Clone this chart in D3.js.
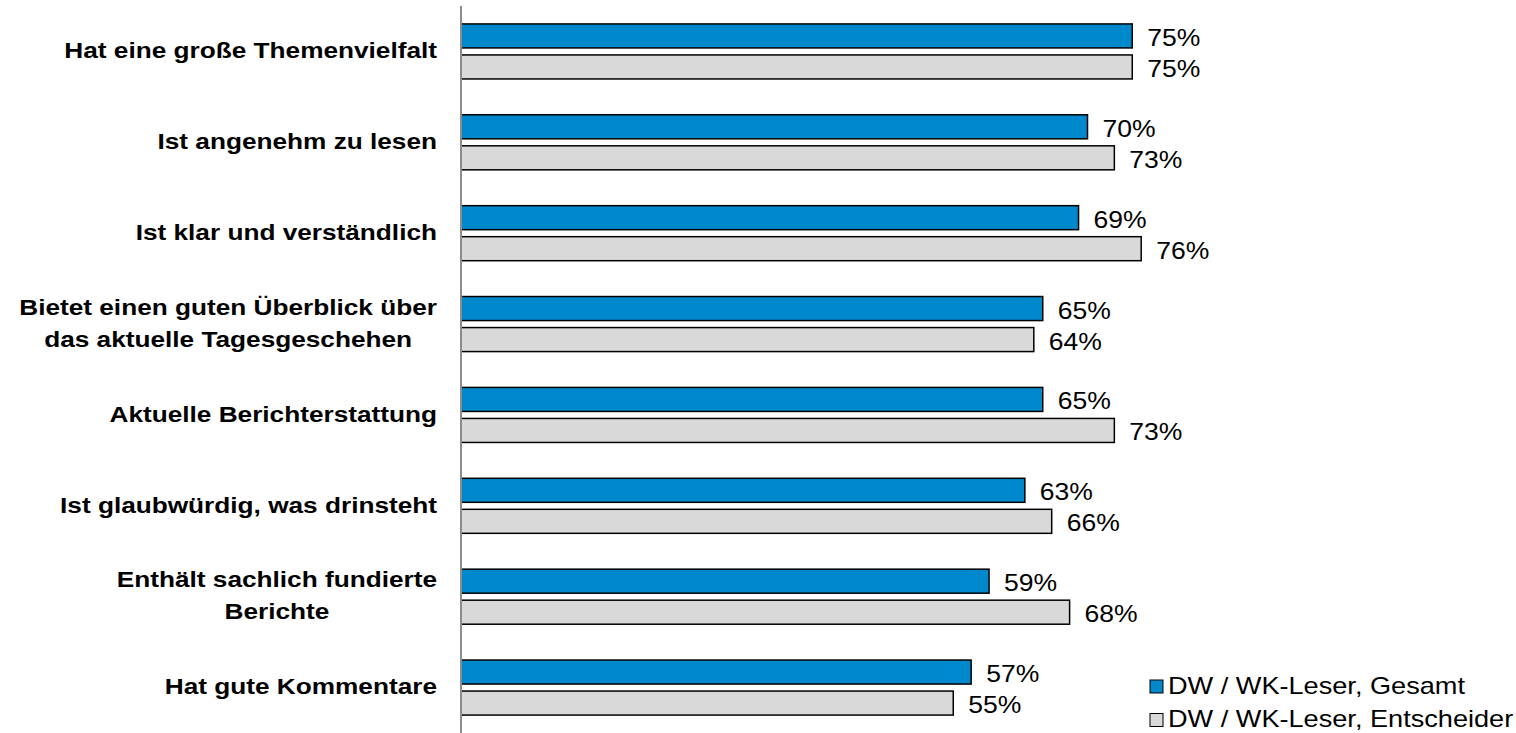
<!DOCTYPE html>
<html>
<head>
<meta charset="utf-8">
<script src="https://cdn.jsdelivr.net/npm/d3@7"></script>
<style>
  html, body { margin: 0; padding: 0; background: #fff; }
  svg { display: block; font-family: "Liberation Sans", Arial, sans-serif; }
</style>
</head>
<body>
<script>
// Rated attributes of the newspaper (share of readers agreeing, %)
const categories = [
  "Hat eine große Themenvielfalt",
  "Ist angenehm zu lesen",
  "Ist klar und verständlich",
  "Bietet einen guten Überblick über\ndas aktuelle Tagesgeschehen",
  "Aktuelle Berichterstattung",
  "Ist glaubwürdig, was drinsteht",
  "Enthält sachlich fundierte\nBerichte",
  "Hat gute Kommentare"
];
const seriesNames = ["DW / WK-Leser, Gesamt", "DW / WK-Leser, Entscheider"];
const gesamt      = [75, 70, 69, 65, 65, 63, 59, 57];
const entscheider = [75, 73, 76, 64, 73, 66, 68, 55];
const seriesColors = ["#0088cc", "#d9d9d9"];

const W = 1516, H = 733;

const svg = d3.select("body").append("svg")
  .attr("width", W).attr("height", H);

const x = d3.scaleLinear().domain([0, 100]).range([461, 461 + 895]);
const y = d3.scaleBand().domain(categories).range([6, 733]).padding(0);
const inner = d3.scaleBand().domain(seriesNames)
  .range([0, y.bandwidth()])
  .paddingInner(7 / 31).paddingOuter(0.578);

const rows = categories.map((c, i) => ({
  cat: c,
  values: [
    { s: seriesNames[0], v: gesamt[i], color: seriesColors[0] },
    { s: seriesNames[1], v: entscheider[i], color: seriesColors[1] }
  ]
}));

const rowG = svg.selectAll("g.row").data(rows).join("g")
  .attr("class", "row")
  .attr("transform", d => `translate(0,${y(d.cat)})`);

// bars
rowG.selectAll("rect").data(d => d.values).join("rect")
  .attr("x", x(0))
  .attr("y", d => inner(d.s))
  .attr("width", d => x(d.v) - x(0))
  .attr("height", inner.bandwidth())
  .attr("fill", d => d.color)
  .attr("stroke", "#000")
  .attr("stroke-width", 1.5);

// value labels
rowG.selectAll("g.val").data(d => d.values).join("g")
  .attr("class", "val")
  .attr("transform", d => `translate(${x(d.v) + 15},${inner(d.s) + inner.bandwidth() / 2 + 10})`)
  .append("text")
  .attr("transform", "scale(1.07,1)")
  .attr("font-size", 24.8)
  .attr("fill", "#000")
  .text(d => d.v + "%");

// category labels (centered lines, block right-aligned)
rows.forEach(d => {
  const lines = d.cat.split("\n");
  const cy = y(d.cat) + y.bandwidth() / 2;
  const g = svg.append("g").attr("transform", `translate(437,${cy})`);
  const t = g.append("text")
    .attr("transform", "scale(1.15,1)")
    .attr("font-size", 22.8)
    .attr("font-weight", "bold")
    .attr("fill", "#000");
  const spans = lines.map((ln, i) => t.append("tspan")
    .attr("y", 6.8 + (i - (lines.length - 1) / 2) * 32)
    .text(ln));
  const widths = spans.map(s => s.node().getComputedTextLength());
  const bw = d3.max(widths);
  spans.forEach(s => s.attr("x", -bw / 2).attr("text-anchor", "middle"));
});

// vertical axis line
svg.append("line")
  .attr("x1", x(0)).attr("x2", x(0))
  .attr("y1", 6).attr("y2", H)
  .attr("stroke", "#8c8c8c").attr("stroke-width", 2);

// legend
const leg = svg.selectAll("g.leg").data(seriesNames).join("g")
  .attr("class", "leg")
  .attr("transform", (d, i) => `translate(1150,${680 + i * 33.5})`);
leg.append("rect")
  .attr("width", 13).attr("height", 13)
  .attr("fill", (d, i) => seriesColors[i])
  .attr("stroke", "#000").attr("stroke-width", 1);
leg.append("g").attr("transform", "translate(18,13.5)")
  .append("text")
  .attr("transform", "scale(1.14,1)")
  .attr("font-size", 23.8)
  .attr("fill", "#000")
  .text(d => d);
</script>
</body>
</html>
